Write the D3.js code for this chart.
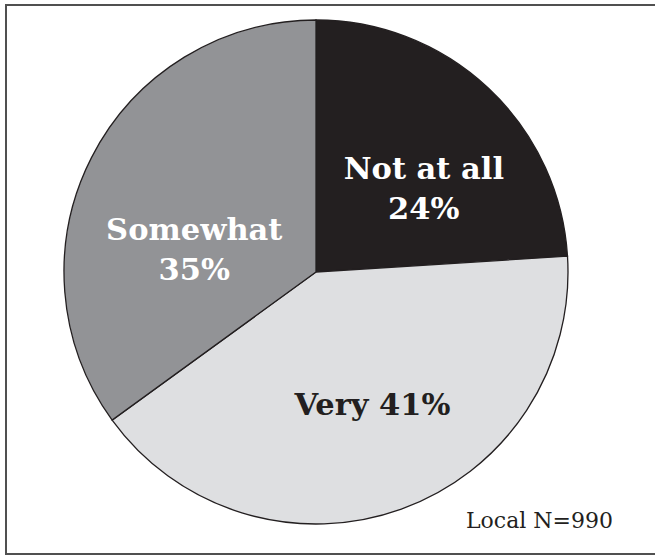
<!DOCTYPE html>
<html>
<head>
<meta charset="utf-8">
<script src="https://cdn.jsdelivr.net/npm/d3@7/dist/d3.min.js"></script>
<style>
  html, body { margin: 0; padding: 0; background: #ffffff; }
  svg { display: block; }
</style>
</head>
<body>
<script>
const categories = ["Not at all", "Very", "Somewhat"];
const values = [24, 41, 35];
const labelLines = [["Not at all", "24%"], ["Very 41%"], ["Somewhat", "35%"]];
const colors = ["#231f20", "#dedfe1", "#929396"];
const textColors = ["#ffffff", "#231f20", "#ffffff"];
const footnote = "Local N=990";

const W = 655, H = 557;
const svg = d3.select("body").append("svg").attr("width", W).attr("height", H);

// frame
svg.append("rect")
  .attr("x", 6).attr("y", 5).attr("width", 660).attr("height", 549)
  .attr("fill", "none").attr("stroke", "#505050").attr("stroke-width", 2);

const cx = 316, cy = 272, R = 252;
const g = svg.append("g").attr("transform", `translate(${cx},${cy})`);

const data = categories.map((c, i) => ({ cat: c, value: values[i], i }));
const pie = d3.pie().value(d => d.value).sort(null);
const arcs = pie(data);
const arc = d3.arc().innerRadius(0).outerRadius(R);
const labelArc = d3.arc().innerRadius(140).outerRadius(140);

g.selectAll("path.slice").data(arcs).join("path")
  .attr("class", "slice")
  .attr("d", arc)
  .attr("fill", d => colors[d.data.i])
  .attr("stroke", "#231f20")
  .attr("stroke-width", 1.3);

const nudge = [[12, 18], [9, 0], [3, 40]];
const fs = 30.5, lh = 40;
arcs.forEach(a => {
  const i = a.data.i;
  const [x, y] = labelArc.centroid(a);
  const lines = labelLines[i];
  const x0 = x + nudge[i][0], y0 = y + nudge[i][1];
  const t = g.append("text")
    .attr("text-anchor", "middle")
    .attr("font-family", "'DejaVu Serif', serif")
    .attr("font-weight", "bold")
    .attr("font-size", fs)
    .attr("fill", textColors[i]);
  lines.forEach((ln, k) => {
    t.append("tspan")
      .attr("x", x0)
      .attr("y", y0 + (k - (lines.length - 1) / 2) * lh + fs * 0.365)
      .text(ln);
  });
});

svg.append("text")
  .attr("x", 466).attr("y", 528)
  .attr("font-family", "'DejaVu Serif', serif")
  .attr("font-size", 22)
  .attr("fill", "#231f20")
  .text(footnote);
</script>
</body>
</html>
